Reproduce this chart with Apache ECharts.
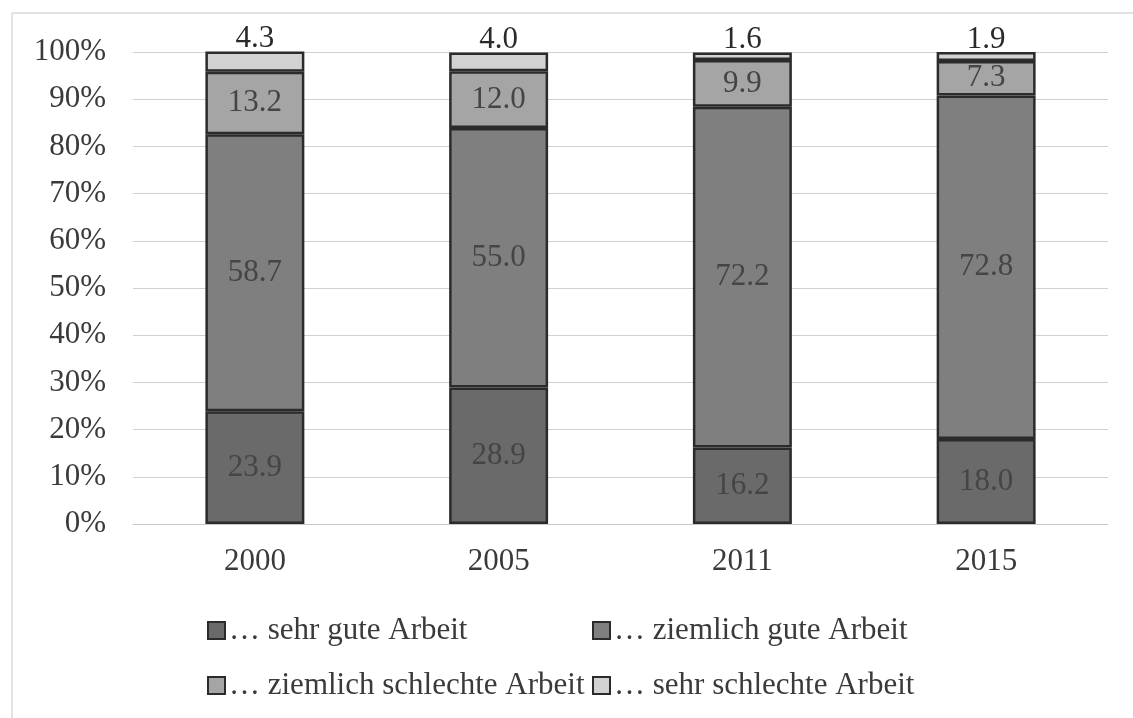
<!DOCTYPE html>
<html>
<head>
<meta charset="utf-8">
<script src="https://cdn.jsdelivr.net/npm/echarts@6/dist/echarts.min.js"></script>
<style>
  html, body { margin: 0; padding: 0; background: #fff; }
  #chart { width: 1133px; height: 718px; }
</style>
</head>
<body>
<div id="chart"></div>
<script>
// values (percent)
const years = ['2000', '2005', '2011', '2015'];
const sehrGut = [23.9, 28.9, 16.2, 18.0];
const ziemlichGut = [58.7, 55.0, 72.2, 72.8];
const ziemlichSchlecht = [13.2, 12.0, 9.9, 7.3];
const sehrSchlecht = [4.3, 4.0, 1.6, 1.9];
const seriesNames = ['… sehr gute Arbeit', '… ziemlich gute Arbeit', '… ziemlich schlechte Arbeit', '… sehr schlechte Arbeit'];
const colors = ['#6a6a6a', '#7f7f7f', '#a5a5a5', '#d2d2d2'];

const font = "'Liberation Serif', 'Times New Roman', serif";
const txt = '#3a3a3a';

let chart = echarts.init(document.getElementById('chart'));

const mk = (name, data, color, pos) => ({
    name: name,
    type: 'bar',
    stack: 'all',
    barWidth: '40.6%',
    data: data,
    itemStyle: { color: color, borderColor: '#2b2b2b', borderWidth: 2.5 },
    label: {
        show: true,
        position: pos,
        distance: pos == 'top' ? -3 : 2,
        formatter: p => p.value.toFixed(1),
        fontFamily: font,
        fontSize: 31,
        color: pos == 'top' ? '#2a2a2a' : '#454545'
    }
});

const legendBase = {
    orient: 'vertical',
    top: 610,
    itemWidth: 17,
    itemHeight: 17,
    itemGap: 24,
    icon: 'rect',
    itemStyle: { borderColor: '#2b2b2b', borderWidth: 2 },
    textStyle: { fontFamily: font, fontSize: 31, color: txt, padding: [0, 0, 0, -1] }
};

chart.setOption({
    animation: false,
    color: colors,
    graphic: [{
        type: 'rect',
        shape: { x: 12, y: 13, width: 1140, height: 720 },
        style: { fill: 'none', stroke: '#c8c8c8', lineWidth: 1 },
        silent: true
    }],
    grid: { left: 133, right: 25, top: 52, bottom: 194 },
    xAxis: {
        type: 'category',
        data: years,
        axisTick: { show: false },
        axisLine: { lineStyle: { color: '#c8c8c8' } },
        axisLabel: { fontFamily: font, fontSize: 31, color: txt, margin: 22 }
    },
    yAxis: {
        type: 'value',
        min: 0,
        max: 100,
        interval: 10,
        axisLabel: { fontFamily: font, fontSize: 31, color: txt, margin: 27, formatter: '{value}%' },
        splitLine: { lineStyle: { color: '#d0d0d0', width: 1 } }
    },
    legend: [
        Object.assign({}, legendBase, { data: [seriesNames[0], seriesNames[2]], left: 202 }),
        Object.assign({}, legendBase, { data: [seriesNames[1], seriesNames[3]], left: 587 })
    ],
    series: [
        mk(seriesNames[0], sehrGut, colors[0], 'inside'),
        mk(seriesNames[1], ziemlichGut, colors[1], 'inside'),
        mk(seriesNames[2], ziemlichSchlecht, colors[2], 'inside'),
        mk(seriesNames[3], sehrSchlecht, colors[3], 'top')
    ]
});
</script>
</body>
</html>
